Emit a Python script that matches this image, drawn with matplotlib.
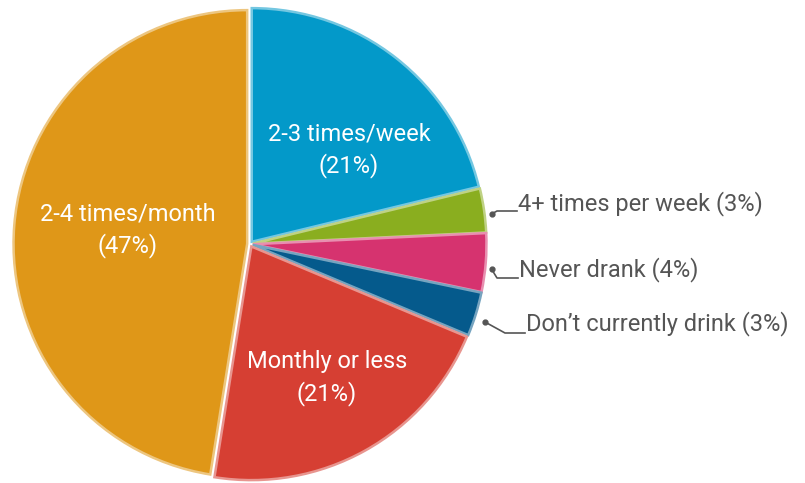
import matplotlib.pyplot as plt
from matplotlib.colors import to_rgb

plt.rcParams['font.family'] = ['Roboto', 'DejaVu Sans']

labels = ['2-3 times/week', '4+ times per week', 'Never drank',
          'Don\u2019t currently drink', 'Monthly or less', '2-4 times/month']
values = [21, 3, 4, 3, 21, 47]
colors = ['#0399c9', '#8aae1f', '#d6336f', '#055a8c', '#d63f33', '#df9718']

W, H = 805, 483
cx, cy, R = 250, 244, 236


def px(x, y):
    # pixel position -> data coords (pie radius = 1)
    return (x - cx) / R, (cy - y) / R


def lighter(c, f=0.45):
    r, g, b = to_rgb(c)
    return (r + (1 - r) * f, g + (1 - g) * f, b + (1 - b) * f)


fig = plt.figure(figsize=(W / 100, H / 100), dpi=100)
ax = fig.add_axes([(cx - R) / W, (H - cy - R) / H, 2 * R / W, 2 * R / H])

wedges, _ = ax.pie(values, colors=colors, startangle=90, counterclock=False,
                   radius=0.99, explode=[0.012] * len(values),
                   wedgeprops=dict(linewidth=1.8))
for w, c in zip(wedges, colors):
    w.set_edgecolor(lighter(c))
ax.set_xlim(-1, 1)
ax.set_ylim(-1, 1)
ax.set_aspect('equal')
ax.axis('off')

# labels inside the big slices
inner = {0: (349, 150), 5: (128, 230), 4: (327, 378)}
for i, (x, y) in inner.items():
    tx, ty = px(x, y)
    ax.text(tx, ty, f'{labels[i]}\n({values[i]}%)', color='white', fontsize=17,
            ha='center', va='center', linespacing=1.4)

# outside labels with leader lines
outer = {
    1: [(491.5, 214), (497, 211), (517, 211), (518, 204)],
    2: [(491.5, 269), (497, 278), (518, 278), (519, 270)],
    3: [(485, 322), (505, 333), (525, 333), (526, 324)],
}
for i, pts in outer.items():
    path = [px(x, y) for x, y in pts[:3]]
    xs, ys = zip(*path)
    ax.plot(xs, ys, color='#555555', lw=1.2, clip_on=False)
    ax.plot(xs[0], ys[0], 'o', color='#555555', ms=3.5, clip_on=False)
    tx, ty = px(*pts[3])
    ax.text(tx, ty, f'{labels[i]} ({values[i]}%)', color='#555555',
            fontsize=17, ha='left', va='center', clip_on=False)

fig.savefig('out.png', dpi=100)
